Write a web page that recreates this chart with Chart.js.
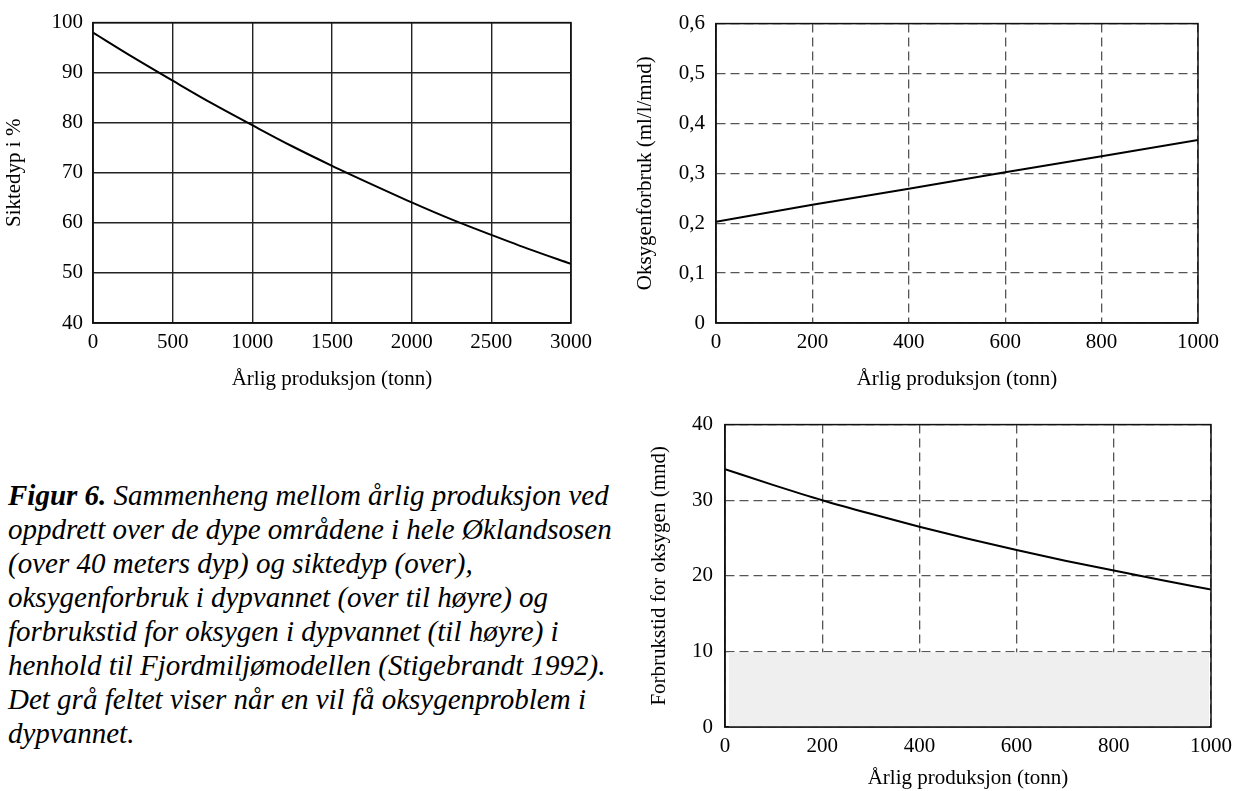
<!DOCTYPE html>
<html>
<head>
<meta charset="utf-8">
<script src="https://cdn.jsdelivr.net/npm/chart.js@4.4.1/dist/chart.umd.min.js"></script>
<style>
  html, body { margin: 0; padding: 0; background: #fff; overflow: hidden; width: 1240px; height: 791px; }
  .box { position: absolute; }
  #caption {
    position: absolute; left: 8px; top: 478px;
    font-family: "Liberation Serif", "DejaVu Serif", serif;
    font-style: italic; font-size: 29px; line-height: 34px; color: #000;
    white-space: nowrap;
  }
  #caption b { font-weight: bold; }
</style>
</head>
<body>
<div class="box" style="left:0px;top:0px;width:620px;height:400px;"><canvas id="c1"></canvas></div>
<div class="box" style="left:620px;top:0px;width:620px;height:400px;"><canvas id="c2"></canvas></div>
<div class="box" style="left:620px;top:400px;width:620px;height:400px;"><canvas id="c3"></canvas></div>
<div id="caption"><b>Figur 6.</b> Sammenheng mellom årlig produksjon ved<br>oppdrett over de dype områdene i hele Øklandsosen<br>(over 40 meters dyp) og siktedyp (over),<br>oksygenforbruk i dypvannet (over til høyre) og<br>forbrukstid for oksygen i dypvannet (til høyre) i<br>henhold til Fjordmiljømodellen (Stigebrandt 1992).<br>Det grå feltet viser når en vil få oksygenproblem i<br>dypvannet.</div>
<script>
// ---- Data ----
const xTitle = 'Årlig produksjon (tonn)';

// Chart 1: Siktedyp
const siktX = [0, 250, 500, 750, 1000, 1250, 1500, 1750, 2000, 2250, 2500, 2750, 3000];
const siktY = [98.0, 93.1, 88.4, 83.8, 79.5, 75.3, 71.4, 67.7, 64.1, 60.7, 57.6, 54.6, 51.8];
const siktXTicks = ['0', '500', '1000', '1500', '2000', '2500', '3000'];
const siktYTicks = ['40', '50', '60', '70', '80', '90', '100'];

// Chart 2: Oksygenforbruk
const oxyX = [0, 200, 400, 600, 800, 1000];
const oxyY = [0.203, 0.237, 0.269, 0.302, 0.334, 0.367];
const oxyXTicks = ['0', '200', '400', '600', '800', '1000'];
const oxyYTicks = ['0', '0,1', '0,2', '0,3', '0,4', '0,5', '0,6'];

// Chart 3: Forbrukstid for oksygen
const tidX = [0, 100, 200, 300, 400, 500, 600, 700, 800, 900, 1000];
const tidY = [34.1, 32.0, 30.0, 28.2, 26.5, 24.9, 23.4, 22.0, 20.7, 19.4, 18.2];
const tidXTicks = ['0', '200', '400', '600', '800', '1000'];
const tidYTicks = ['0', '10', '20', '30', '40'];

// Grey zone (oxygen problem)
const greyZoneX = [8, 996];
const greyZoneY = [9.9, 9.9];

// ---- Helpers ----
const FONT = { family: '"Liberation Serif", "Times New Roman", serif', size: 21 };
const zip = (xs, ys) => xs.map((x, i) => ({ x: x, y: ys[i] }));

const frame = {
  id: 'frame',
  afterDatasetsDraw(chart) {
    const a = chart.chartArea, ctx = chart.ctx;
    ctx.save();
    ctx.strokeStyle = '#111';
    ctx.lineWidth = 1.5;
    ctx.setLineDash([]);
    ctx.strokeRect(a.left, a.top, a.right - a.left, a.bottom - a.top);
    ctx.restore();
  }
};

function makeChart(id, cfg) {
  const el = document.getElementById(id);
  el.width = 620; el.height = 400;
  return new Chart(el, {
    type: 'line',
    data: { datasets: cfg.datasets },
    options: {
      responsive: false,
      animation: false,
      events: [],
      layout: { padding: cfg.padding },
      plugins: { legend: { display: false }, tooltip: { enabled: false } },
      elements: { point: { radius: 0 } },
      scales: {
        x: {
          type: 'linear', min: cfg.xMin, max: cfg.xMax,
          afterFit: s => { s.height = cfg.xHeight; },
          ticks: { stepSize: cfg.xStep, color: '#000', font: FONT, padding: 7, maxRotation: 0,
                   callback: (v, i) => cfg.xTicks[i] },
          grid: { color: cfg.gridColor, lineWidth: cfg.gridWidth, drawTicks: false },
          border: { display: true, color: '#111', width: 1.5, dash: cfg.dash },
          title: { display: true, text: xTitle, color: '#000', font: FONT, padding: { top: 0, bottom: cfg.xTitlePad } }
        },
        y: {
          type: 'linear', min: cfg.yMin, max: cfg.yMax,
          afterFit: s => { s.width = cfg.yWidth; },
          ticks: { stepSize: cfg.yStep, color: '#000', font: FONT, padding: cfg.yTickPad,
                   callback: (v, i) => cfg.yTicks[i] },
          grid: { color: cfg.gridColor, lineWidth: cfg.gridWidth, drawTicks: false },
          border: { display: true, color: '#111', width: 1.5, dash: cfg.dash },
          title: { display: true, text: cfg.yTitle, color: '#000', font: FONT, padding: { top: cfg.yTitlePad, bottom: 0 } }
        }
      }
    },
    plugins: [frame]
  });
}

const dashGrid = [9, 5];

const c1 = makeChart('c1', {
  datasets: [{ data: zip(siktX, siktY), borderColor: '#000', borderWidth: 2, fill: false, cubicInterpolationMode: 'monotone' }],
  padding: { left: 0, right: 49, top: 19, bottom: 0 },
  xMin: 0, xMax: 3000, xStep: 500, xTicks: siktXTicks, xHeight: 77, xTitlePad: 8,
  yMin: 40, yMax: 100, yStep: 10, yTicks: siktYTicks, yWidth: 93, yTickPad: 10, yTitlePad: 2,
  yTitle: 'Siktedyp i %',
  gridColor: '#222', gridWidth: 1.4, dash: []
});

const c2 = makeChart('c2', {
  datasets: [{ data: zip(oxyX, oxyY), borderColor: '#000', borderWidth: 2, fill: false }],
  padding: { left: 0, right: 42, top: 19, bottom: 0 },
  xMin: 0, xMax: 1000, xStep: 200, xTicks: oxyXTicks, xHeight: 77, xTitlePad: 8,
  yMin: 0, yMax: 0.6, yStep: 0.1, yTicks: oxyYTicks, yWidth: 96, yTickPad: 11, yTitlePad: 13,
  yTitle: 'Oksygenforbruk (ml/l/mnd)',
  gridColor: '#555', gridWidth: 1.3, dash: dashGrid
});

const c3 = makeChart('c3', {
  datasets: [
    { data: zip(tidX, tidY), borderColor: '#000', borderWidth: 2, fill: false, cubicInterpolationMode: 'monotone', order: 0 },
    { data: zip(greyZoneX, greyZoneY), borderWidth: 0, borderColor: 'rgba(0,0,0,0)', backgroundColor: '#efefef', fill: 'origin', order: 1 }
  ],
  padding: { left: 0, right: 29, top: 23, bottom: 0 },
  xMin: 0, xMax: 1000, xStep: 200, xTicks: tidXTicks, xHeight: 73, xTitlePad: 9,
  yMin: 0, yMax: 40, yStep: 10, yTicks: tidYTicks, yWidth: 105, yTickPad: 12, yTitlePad: 27,
  yTitle: 'Forbrukstid for oksygen (mnd)',
  gridColor: '#555', gridWidth: 1.3, dash: dashGrid
});
</script>
</body>
</html>
